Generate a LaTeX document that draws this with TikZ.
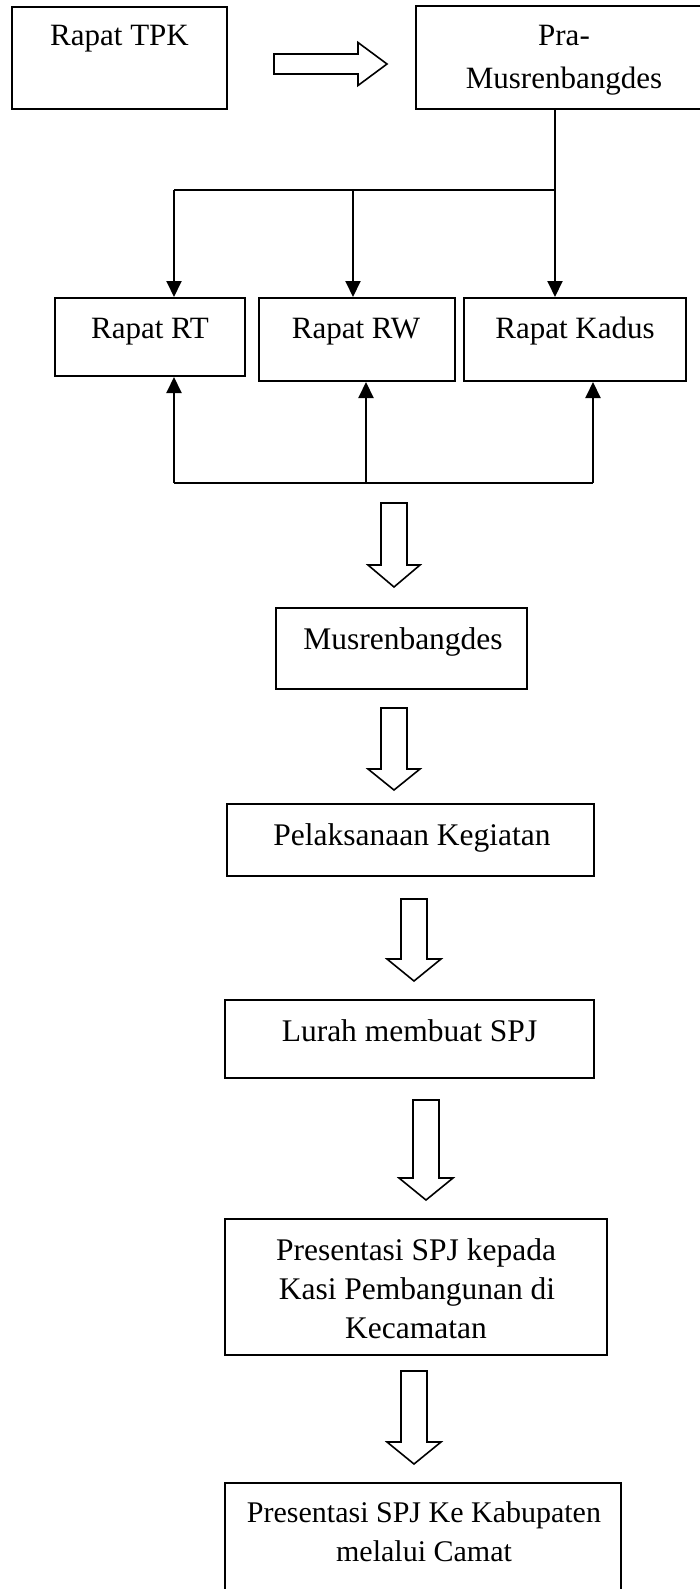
\documentclass[tikz,border=0pt]{standalone}
\usepackage{fontspec}
\setmainfont{Liberation Serif}
\usetikzlibrary{arrows.meta}
\newcommand\hdown[6]{%
  \draw[hollow] (#1-#5,#2) -- (#1+#5,#2) -- (#1+#5,#3) -- (#1+#6,#3) -- (#1,#4) -- (#1-#6,#3) -- (#1-#5,#3) -- cycle;}
\begin{document}
\begin{tikzpicture}[x=1pt,y=-1pt,
  box/.style={draw,line width=2pt,inner sep=0pt},
  conn/.style={line width=2pt},
  tip/.style={conn,-{Triangle[length=16pt,width=15pt]}},
  hollow/.style={draw,line width=1.6pt,fill=white,line join=miter},
  toptext/.style={anchor=base,inner sep=0pt,font=\fontsize{31}{36}\selectfont},
  lowtext/.style={anchor=base,inner sep=0pt,font=\fontsize{31.5}{36}\selectfont},
  fintext/.style={anchor=base,inner sep=0pt,font=\fontsize{30}{34}\selectfont}]
\useasboundingbox (0,0) rectangle (700,1589);
\fill[white] (0,0) rectangle (700,1589);

% boxes
\node[box,minimum width=215pt,minimum height=102pt] (tpk) at (119.5,58) {};
\node[box,minimum width=299pt,minimum height=103pt] (pra) at (565.5,57.5) {};
\node[box,minimum width=190pt,minimum height=78pt] (rt) at (150,337) {};
\node[box,minimum width=196pt,minimum height=83pt] (rw) at (357,339.5) {};
\node[box,minimum width=222pt,minimum height=83pt] (kadus) at (575,339.5) {};
\node[box,minimum width=251pt,minimum height=81pt] (mus) at (401.5,648.5) {};
\node[box,minimum width=367pt,minimum height=72pt] (pel) at (410.5,840) {};
\node[box,minimum width=369pt,minimum height=78pt] (lurah) at (409.5,1039) {};
\node[box,minimum width=382pt,minimum height=136pt] (pres) at (416,1287) {};
\node[box,minimum width=396pt,minimum height=127pt] (fin) at (423,1546.5) {};

% texts
\node[toptext] (ttpk) at (119.5,46) {Rapat TPK};
\node[toptext] (tpra1) at (564,46) {Pra-};
\node[toptext] (tpra2) at (564,89) {Musrenbangdes};
\node[toptext] (trt) at (150,338) {Rapat RT};
\node[toptext] (trw) at (356,338) {Rapat RW};
\node[toptext] (tkadus) at (575,338) {Rapat Kadus};
\node[lowtext] (tmus) at (403,649) {Musrenbangdes};
\node[lowtext] (tpel) at (412,845) {Pelaksanaan Kegiatan};
\node[lowtext] (tlurah) at (409.5,1041) {Lurah membuat SPJ};
\node[lowtext] (tpres1) at (416,1260) {Presentasi SPJ kepada};
\node[lowtext] (tpres2) at (417,1299) {Kasi Pembangunan di};
\node[lowtext] (tpres3) at (416,1338) {Kecamatan};
\node[fintext] (tfin1) at (424,1522) {Presentasi SPJ Ke Kabupaten};
\node[fintext] (tfin2) at (424,1561) {melalui Camat};

% top distribution
\coordinate (j) at (555,190);
\coordinate (jl) at (174,190);
\coordinate (jm) at (353,190);
\draw[conn] (pra.south -| j) -- (j);
\draw[conn] (jl) -- (j);
\draw[tip] (jl) -- (jl |- rt.north);
\draw[tip] (jm) -- (jm |- rw.north);
\draw[tip] (j) -- (j |- kadus.north);

% bottom bus
\coordinate (bl) at (174,483);
\coordinate (bm) at (366,483);
\coordinate (br) at (593,483);
\draw[conn] (bl) -- (br);
\draw[tip] (bl) -- (bl |- rt.south);
\draw[tip] (bm) -- (bm |- rw.south);
\draw[tip] (br) -- (br |- kadus.south);

% hollow arrows
\draw[hollow] (274,54) -- (358,54) -- (358,42.5) -- (387,64) -- (358,85.5) -- (358,74) -- (274,74) -- cycle;
\hdown{394}{503}{565}{587}{13}{26}
\hdown{394}{708}{769}{790}{13}{26}
\hdown{414}{899}{959}{981}{13}{27}
\hdown{426}{1100}{1178}{1200}{13}{27}
\hdown{414}{1371}{1442}{1464}{13}{27}
\end{tikzpicture}
\end{document}
